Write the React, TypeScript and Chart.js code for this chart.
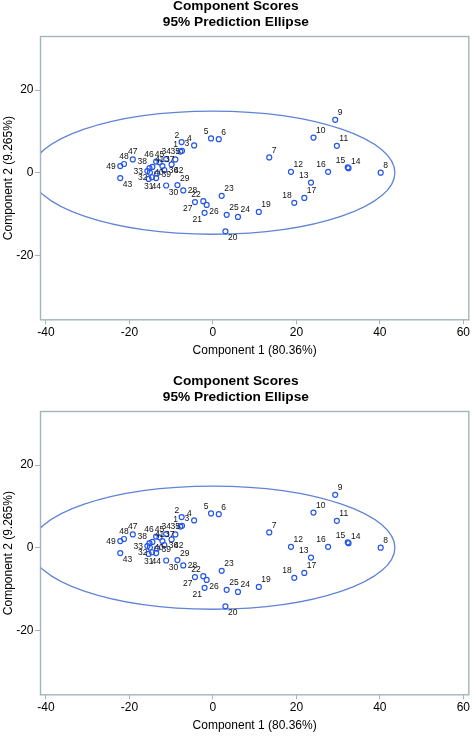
import React, { useEffect, useRef } from 'react';
import { Chart, registerables } from 'chart.js';

Chart.register(...registerables);

// ---------------- data ----------------
const POINT_IDS = [
  1, 2, 3, 4, 5, 6, 7, 8, 9, 10,
  11, 12, 13, 14, 15, 16, 17, 18, 19, 20,
  21, 22, 23, 24, 25, 26, 27, 28, 29, 30,
  31, 32, 33, 34, 35, 36, 37, 38, 39, 40,
  41, 42, 43, 44, 45, 46, 47, 48, 49,
];
const PC1 = [
  -7.8, -7.5, -7.4, -4.5, -0.45, 1.4, 13.5, 40.2, 29.3, 24.1,
  29.7, 18.7, 23.5, 32.5, 32.3, 27.6, 21.9, 19.5, 11.0, 3.0,
  -2.0, -2.3, 2.1, 6.0, 3.3, -1.5, -4.3, -7.1, -8.5, -11.2,
  -15.4, -14.6, -15.7, -11.2, -9.0, -11.65, -12.1, -15.2, -13.4, -15.1,
  -14.5, -9.9, -22.2, -13.6, -12.8, -13.6, -19.2, -21.3, -22.2,
];
const PC2 = [
  5.1, 7.4, 5.3, 6.6, 8.3, 8.1, 3.7, 0.0, 12.8, 8.5,
  6.5, 0.2, -2.4, 1.1, 1.3, 0.2, -6.1, -7.3, -9.5, -14.2,
  -9.7, -6.9, -5.6, -10.7, -10.2, -7.8, -7.1, -4.3, -3.0, -3.1,
  -1.5, -1.1, 0.4, 3.3, 3.2, 0.65, 1.6, 1.1, -0.2, 0.05,
  1.4, 2.0, -1.3, -1.3, 2.5, 2.7, 3.2, 2.1, 1.6,
];
const X_TICKS = [-40, -20, 0, 20, 40, 60];
const Y_TICKS = [-20, 0, 20];
const X_RANGE = [-41.43, 61.43];
const Y_RANGE = [-35.72, 33.08];
const ELLIPSE_CENTER = [0, 0];
const ELLIPSE_SEMI_AXES = [43.6, 14.9];
const TITLE = ['Component Scores', '95% Prediction Ellipse'];
const X_TITLE = 'Component 1 (80.36%)';
const Y_TITLE = 'Component 2 (9.265%)';

// label placement (style only): ur, ul, u, r, l, lr, ll, d
const LABEL_PLACEMENT: Record<number, string> = {
  1: 'ul', 2: 'ul', 3: 'ur', 4: 'ul', 5: 'ul', 6: 'ur', 13: 'ul', 15: 'ul', 16: 'ul', 18: 'ul',
  20: 'lr', 21: 'll', 22: 'ul', 26: 'lr', 27: 'll', 28: 'r', 30: 'lr', 31: 'd', 44: 'd',
  32: 'l', 33: 'l', 34: 'u', 35: 'u', 36: 'r', 38: 'ul', 39: 'r', 40: 'r', 42: 'lr', 43: 'lr',
  45: 'u', 46: 'ul', 47: 'u', 48: 'u', 49: 'l',
};

// ---------------- style ----------------
const FONT = "'Liberation Sans', Arial, Helvetica, sans-serif";
const FRAME = '#a2b5b9';
const MARKER = '#2456e8';
const ELLIPSE_COLOR = '#5f84d6';
const CANVAS_W = 473;
const CANVAS_H = 364;

const framePlugin = {
  id: 'frameBox',
  beforeDatasetsDraw(chart: any) {
    const { ctx, chartArea } = chart;
    ctx.save();
    ctx.strokeStyle = FRAME;
    ctx.lineWidth = 1.4;
    ctx.strokeRect(chartArea.left + 0.5, chartArea.top + 0.5, chartArea.right - chartArea.left - 1, chartArea.bottom - chartArea.top - 1);
    ctx.restore();
  },
};

const ellipsePlugin = {
  id: 'predEllipse',
  beforeDatasetsDraw(chart: any) {
    const { ctx, chartArea, scales } = chart;
    const xs = scales.x;
    const ys = scales.y;
    const cx = xs.getPixelForValue(ELLIPSE_CENTER[0]);
    const cy = ys.getPixelForValue(ELLIPSE_CENTER[1]);
    const rx = Math.abs(xs.getPixelForValue(ELLIPSE_CENTER[0] + ELLIPSE_SEMI_AXES[0]) - cx);
    const ry = Math.abs(ys.getPixelForValue(ELLIPSE_CENTER[1] + ELLIPSE_SEMI_AXES[1]) - cy);
    ctx.save();
    ctx.beginPath();
    ctx.rect(chartArea.left + 1, chartArea.top + 1, chartArea.right - chartArea.left - 2, chartArea.bottom - chartArea.top - 2);
    ctx.clip();
    ctx.beginPath();
    ctx.ellipse(cx, cy, rx, ry, 0, 0, Math.PI * 2);
    ctx.strokeStyle = ELLIPSE_COLOR;
    ctx.lineWidth = 1.3;
    ctx.stroke();
    ctx.restore();
  },
};

const labelPlugin = {
  id: 'pointLabels',
  afterDatasetsDraw(chart: any) {
    const { ctx } = chart;
    const meta = chart.getDatasetMeta(0);
    ctx.save();
    ctx.font = `8.5px ${FONT}`;
    ctx.fillStyle = '#111';
    ctx.textBaseline = 'alphabetic';
    meta.data.forEach((pt: any, i: number) => {
      const id = POINT_IDS[i];
      const pos = LABEL_PLACEMENT[id] || 'ur';
      let dx = 2.5;
      let dy = -4.5;
      let align: CanvasTextAlign = 'left';
      switch (pos) {
        case 'ul': dx = -2.5; align = 'right'; break;
        case 'u': dx = 0; dy = -5; align = 'center'; break;
        case 'r': dx = 4.5; dy = 3; break;
        case 'l': dx = -4.5; dy = 3; align = 'right'; break;
        case 'lr': dx = 2.5; dy = 9; break;
        case 'll': dx = -2.5; dy = 9; align = 'right'; break;
        case 'd': dx = 0; dy = 10.5; align = 'center'; break;
        default: break;
      }
      ctx.textAlign = align;
      ctx.fillText(String(id), pt.x + dx, pt.y + dy);
    });
    ctx.restore();
  },
};

function Panel({ top }: { top: number }) {
  const ref = useRef<HTMLCanvasElement>(null);
  useEffect(() => {
    const canvas = ref.current;
    if (!canvas) return;
    const points = PC1.map((x, i) => ({ x, y: PC2[i] }));
    const chart = new Chart(canvas, {
      type: 'scatter',
      data: {
        datasets: [
          {
            data: points,
            pointStyle: 'circle',
            pointRadius: 2.5,
            pointHoverRadius: 2.5,
            borderWidth: 1.2,
            borderColor: MARKER,
            backgroundColor: 'rgba(0,0,0,0)',
          },
        ],
      },
      options: {
        responsive: false,
        devicePixelRatio: 1,
        animation: false,
        events: [],
        layout: { padding: { left: 0, right: 1.3, top: 0, bottom: 0 } },
        plugins: {
          legend: { display: false },
          tooltip: { enabled: false },
          title: {
            display: true,
            text: TITLE,
            color: '#000',
            font: { family: FONT, size: 13.7, weight: 'bold', lineHeight: 16.3 / 13.7 },
            padding: { top: 0, bottom: 5.4 },
          },
        },
        scales: {
          x: {
            type: 'linear',
            position: 'bottom',
            min: X_RANGE[0],
            max: X_RANGE[1],
            afterBuildTicks: (s: any) => {
              s.ticks = X_TICKS.map((v) => ({ value: v }));
            },
            afterFit: (s: any) => {
              s.height = 41.7;
            },
            grid: { drawOnChartArea: false, drawTicks: true, tickLength: 4, color: FRAME, lineWidth: 1 },
            border: { display: false },
            ticks: {
              padding: 1,
              color: '#000',
              font: { family: FONT, size: 12 },
              maxRotation: 0,
              callback: (v: any) => String(v),
            },
            title: {
              display: true,
              text: X_TITLE,
              color: '#000',
              font: { family: FONT, size: 12 },
              padding: { top: 0, bottom: 3.8 },
            },
          },
          y: {
            type: 'linear',
            position: 'left',
            min: Y_RANGE[0],
            max: Y_RANGE[1],
            afterBuildTicks: (s: any) => {
              s.ticks = Y_TICKS.map((v) => ({ value: v }));
            },
            afterFit: (s: any) => {
              s.width = 40;
            },
            grid: { drawOnChartArea: false, drawTicks: true, tickLength: 5, color: FRAME, lineWidth: 1 },
            border: { display: false },
            ticks: {
              padding: 1.5,
              color: '#000',
              font: { family: FONT, size: 12 },
              callback: (v: any) => String(v),
            },
            title: {
              display: true,
              text: Y_TITLE,
              color: '#000',
              font: { family: FONT, size: 12 },
              padding: { top: 1, bottom: 0 },
            },
          },
        },
      } as any,
      plugins: [framePlugin, ellipsePlugin, labelPlugin],
    });
    return () => chart.destroy();
  }, []);
  return (
    <canvas
      ref={ref}
      width={CANVAS_W}
      height={CANVAS_H}
      style={{ position: 'absolute', left: 0, top, width: CANVAS_W, height: CANVAS_H, display: 'block' }}
    />
  );
}

export default function App() {
  return (
    <div style={{ position: 'absolute', left: 0, top: 0, width: 473, height: 737, background: '#fff', overflow: 'hidden' }}>
      <Panel top={-2} />
      <Panel top={373} />
    </div>
  );
}
